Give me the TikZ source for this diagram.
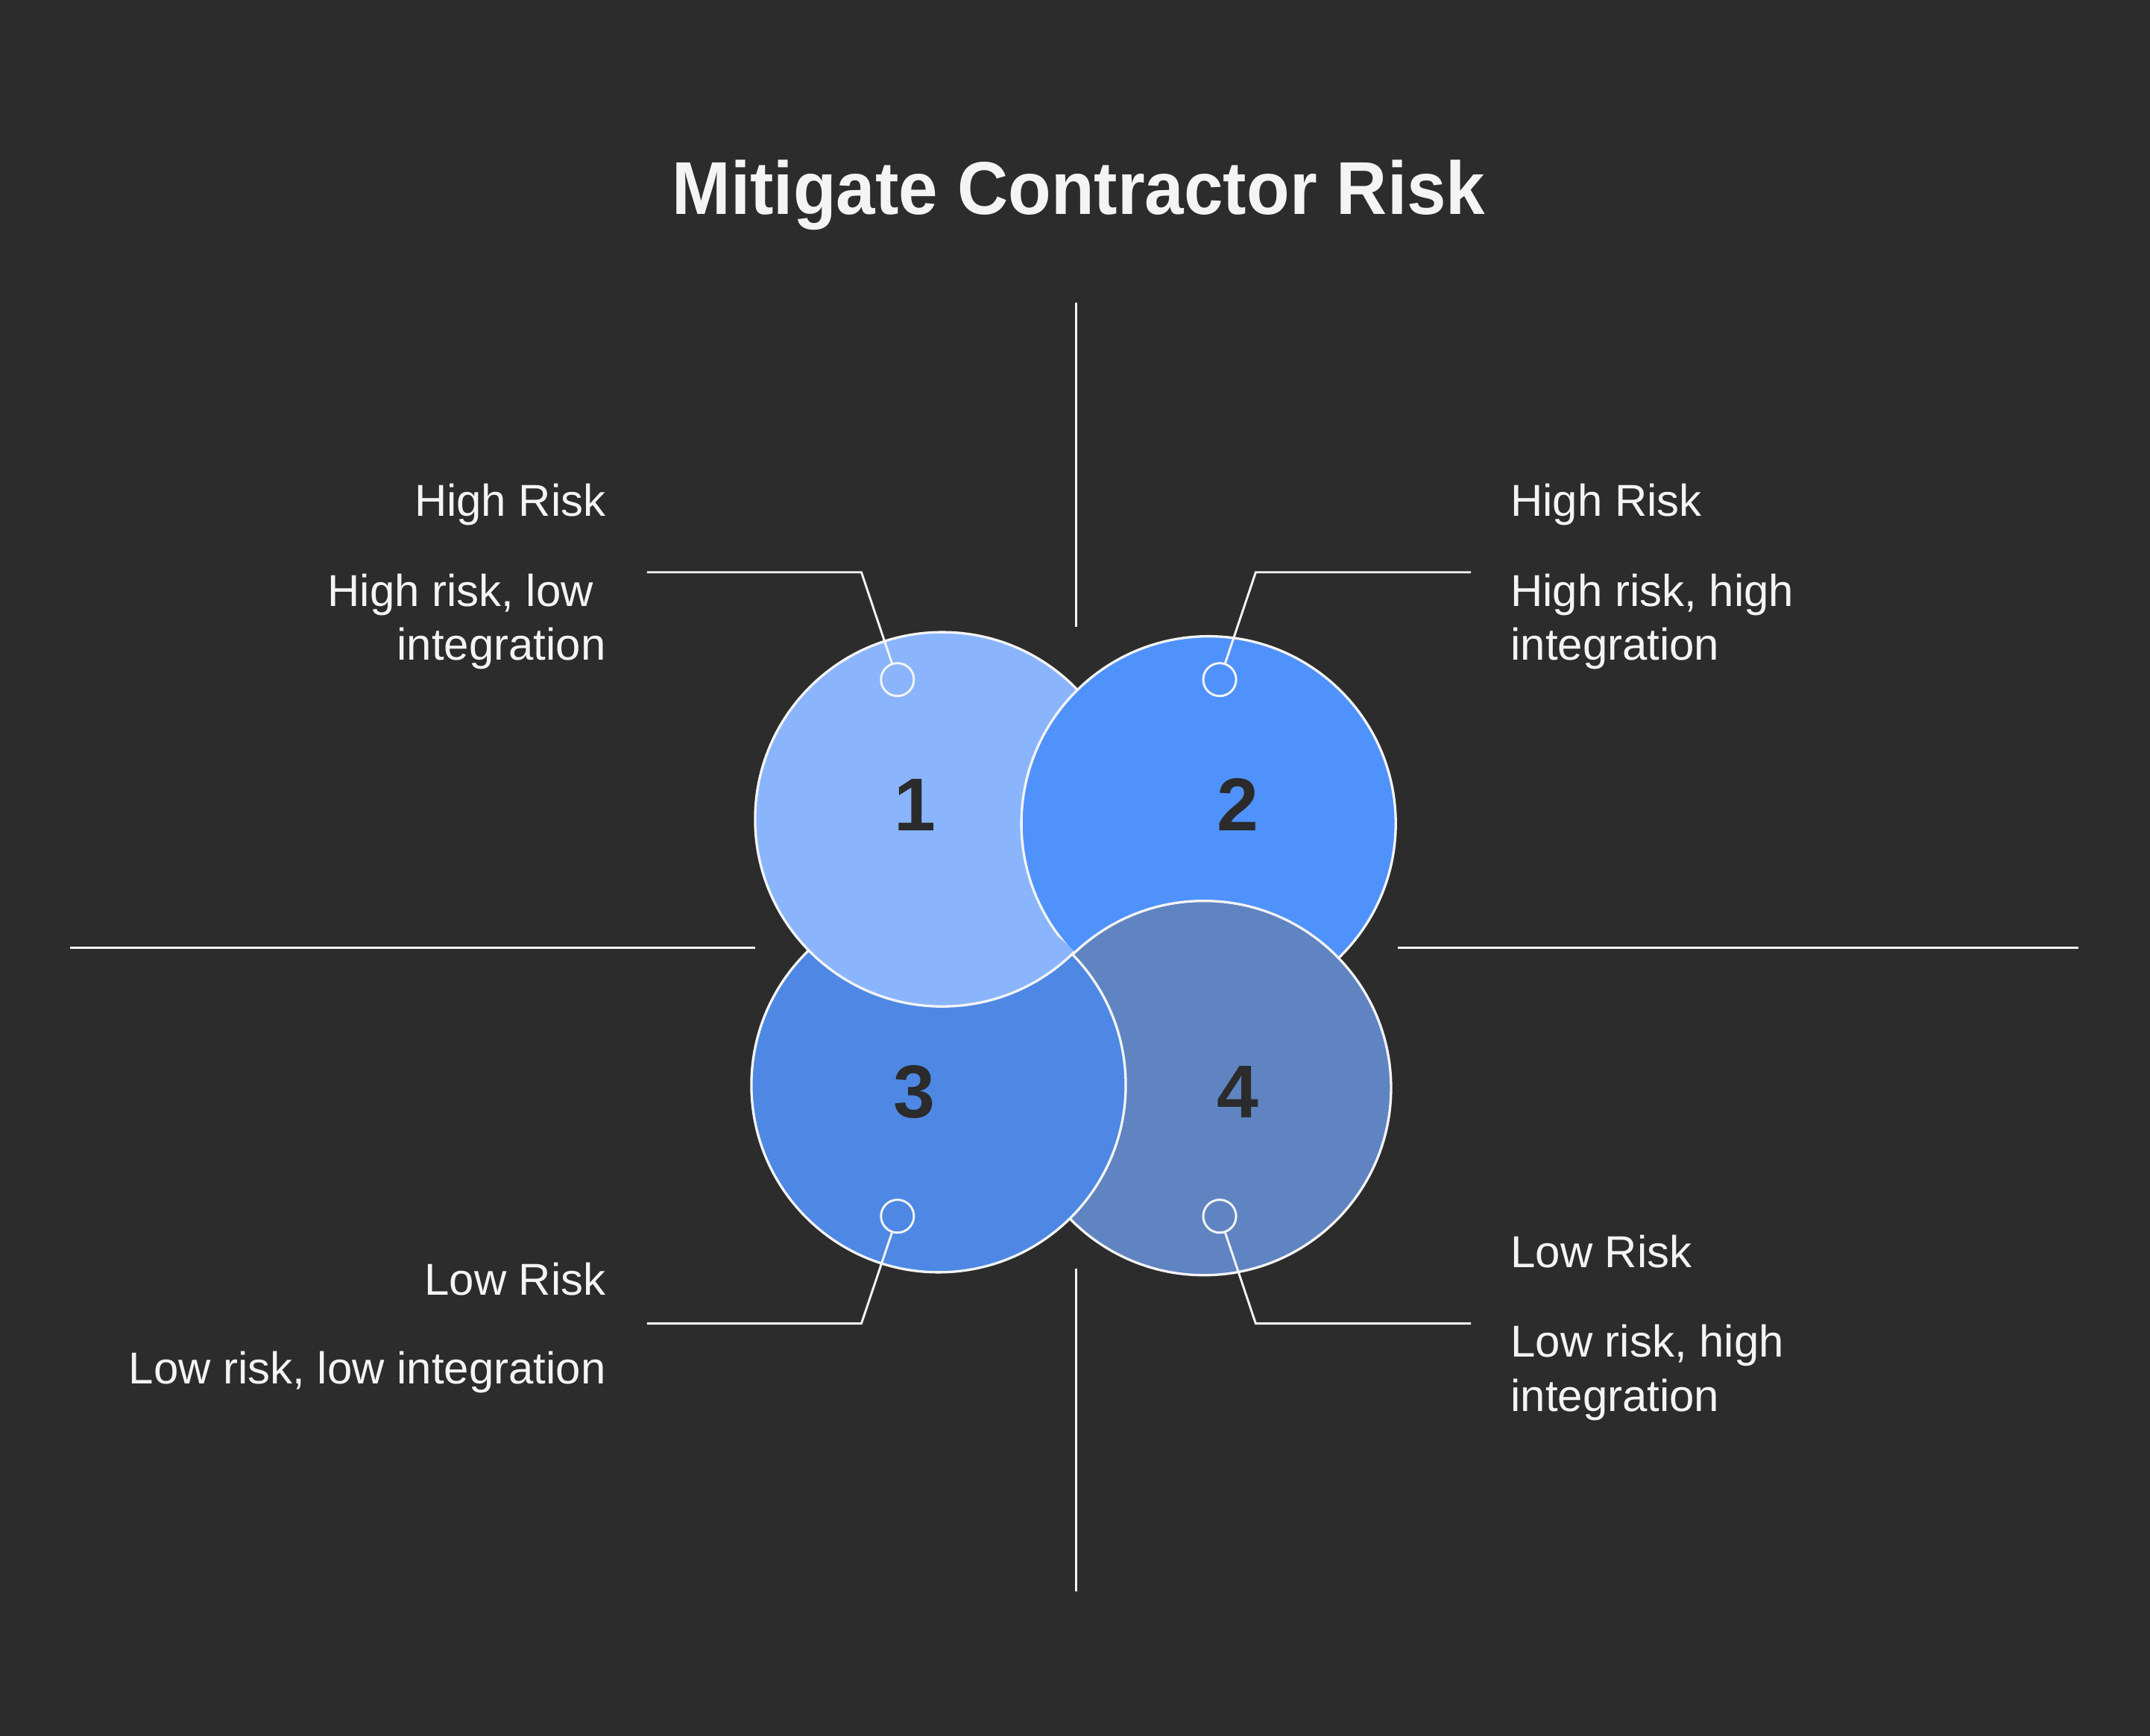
\documentclass[tikz,border=0pt]{standalone}
\usepackage{fontspec}
\setmainfont{Liberation Sans}
\usepackage{graphicx}
\definecolor{bg}{HTML}{2C2C2C}
\definecolor{txt}{HTML}{F4F4F4}
\definecolor{numc}{HTML}{2B2B2B}
\definecolor{cone}{HTML}{8AB5FC}
\definecolor{ctwo}{HTML}{4F92FC}
\definecolor{cthree}{HTML}{4E88E4}
\definecolor{cfour}{HTML}{5F84C1}
\tikzset{
  bigc/.style={circle, draw=txt, line width=1.8pt, minimum size=273pt, inner sep=0pt},
  markc/.style={circle, draw=txt, line width=1.6pt, minimum size=24pt, inner sep=0pt},
  axisline/.style={draw=txt, line width=1.6pt},
  leader/.style={draw=txt, line width=1.6pt},
  lbl/.style={text=txt, font=\fontsize{32.6}{39}\selectfont, inner sep=0pt},
  numlbl/.style={text=numc, font=\fontsize{54.6}{60}\selectfont\bfseries, inner sep=0pt, anchor=base},
  titlelbl/.style={text=txt, font=\fontsize{54.6}{60}\selectfont\bfseries, inner sep=0pt, anchor=base}
}
\begin{document}
\begin{tikzpicture}[x=1pt,y=-1pt]
\fill[bg] (0,0) rectangle (1568,1266);
\useasboundingbox (0,0) rectangle (1568,1266);

% title
\node[titlelbl] (title) at (786.7,156.2) {\scalebox{0.94}[1]{Mitigate Contractor Risk}};

% axes
\coordinate (vt1) at (785,221);
\coordinate (vt2) at (785,457.2);
\coordinate (vb1) at (785,925.2);
\coordinate (vb2) at (785,1161);
\coordinate (hl1) at (51,691.4);
\coordinate (hl2) at (550.6,691.4);
\coordinate (hr1) at (1019.6,691.4);
\coordinate (hr2) at (1516,691.4);
\draw[axisline] (vt1) -- (vt2);
\draw[axisline] (vb1) -- (vb2);
\draw[axisline] (hl1) -- (hl2);
\draw[axisline] (hr1) -- (hr2);

% circles (cyclic overlap)
\node[bigc, fill=cone] (C1) at (687.2,597.6) {};
\node[bigc, fill=ctwo] (C2) at (881.4,600.6) {};
\node[bigc, fill=cfour] (C4) at (878,793.6) {};
\node[bigc, fill=cthree] (C3) at (684.5,791.5) {};
\begin{scope}
  \clip (C3.center) circle (139pt);
  \path[fill=cone, draw=txt, line width=1.8pt] (C1.center) circle (136.5pt);
\end{scope}

% numbers
\node[numlbl] (n1) at (667.5,606.2) {1};
\node[numlbl] (n2) at (902.6,606.2) {2};
\node[numlbl] (n3) at (667,815.3) {3};
\node[numlbl] (n4) at (902.6,815.3) {4};

% markers
\node[markc] (m1) at (654.5,495.7) {};
\node[markc] (m2) at (889.5,495.7) {};
\node[markc] (m3) at (654.5,887.1) {};
\node[markc] (m4) at (889.5,887.1) {};

% leader corners and ends
\coordinate (k1) at (628.2,417.4);
\coordinate (e1) at (471.9,417.4);
\coordinate (k2) at (915.8,417.4);
\coordinate (e2) at (1072.8,417.4);
\coordinate (k3) at (628.2,965.4);
\coordinate (e3) at (471.9,965.4);
\coordinate (k4) at (915.8,965.4);
\coordinate (e4) at (1072.8,965.4);
\draw[leader] (m1) -- (k1) -- (e1);
\draw[leader] (m2) -- (k2) -- (e2);
\draw[leader] (m3) -- (k3) -- (e3);
\draw[leader] (m4) -- (k4) -- (e4);

% labels top-left
\node[lbl, anchor=base east] (tlh) at (442,376.6) {High Risk};
\node[lbl, anchor=base east] (tla) at (442,442.2) {High risk, low\kern0.278em};
\node[lbl, anchor=base east] (tlb) at (442,481.2) {integration};
% labels top-right
\node[lbl, anchor=base west] (trh) at (1101.5,376.6) {High Risk};
\node[lbl, anchor=base west] (tra) at (1101.5,442.2) {High risk, high};
\node[lbl, anchor=base west] (trb) at (1101.5,481.2) {integration};
% labels bottom-left
\node[lbl, anchor=base east] (blh) at (442,944.6) {Low Risk};
\node[lbl, anchor=base east] (bla) at (442,1009.5) {Low risk, low integration};
% labels bottom-right
\node[lbl, anchor=base west] (brh) at (1101.5,924.7) {Low Risk};
\node[lbl, anchor=base west] (bra) at (1101.5,989.9) {Low risk, high};
\node[lbl, anchor=base west] (brb) at (1101.5,1029.4) {integration};
\end{tikzpicture}
\end{document}
